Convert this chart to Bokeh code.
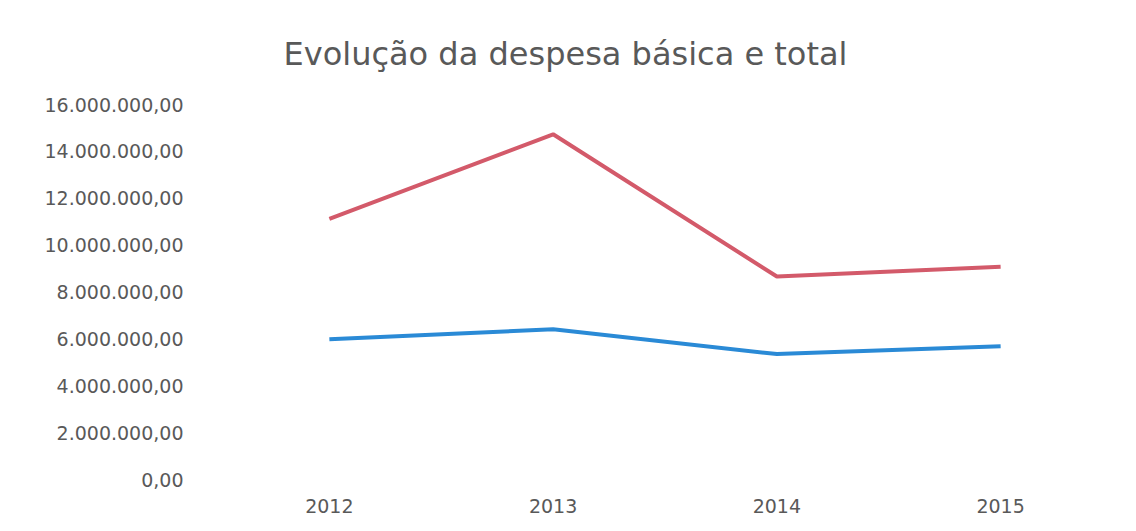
from bokeh.plotting import figure
from bokeh.models import Range1d, FixedTicker
from bokeh.embed import file_html
from bokeh.resources import INLINE

years = ["2012", "2013", "2014", "2015"]
despesa_total = [11120000, 14730000, 8660000, 9080000]
despesa_basica = [5980000, 6410000, 5350000, 5690000]
y_ticks = [0, 2000000, 4000000, 6000000, 8000000, 10000000, 12000000, 14000000, 16000000]
y_tick_labels = ["0,00", "2.000.000,00", "4.000.000,00", "6.000.000,00", "8.000.000,00",
                 "10.000.000,00", "12.000.000,00", "14.000.000,00", "16.000.000,00"]

FONT = "DejaVu Sans"
GREY = "#595959"

p = figure(x_range=years, y_range=Range1d(0, 16000000), width=1120, height=515,
           output_backend="svg", toolbar_location=None,
           title="Evolução da despesa básica e total",
           min_border_left=217, min_border_right=8, min_border_bottom=34, min_border_top=104)

p.line(years, despesa_total, line_color="#d35a6a", line_width=4)
p.line(years, despesa_basica, line_color="#2a8ad6", line_width=4)

p.title.text_font = FONT
p.title.text_font_size = "32px"
p.title.text_font_style = "normal"
p.title.text_color = GREY
p.title.align = "left"
p.title.offset = 66
p.title.standoff = 64

p.yaxis.ticker = FixedTicker(ticks=y_ticks)
p.yaxis.major_label_overrides = {t: l for t, l in zip(y_ticks, y_tick_labels)}
for ax in (p.xaxis, p.yaxis):
    ax.axis_line_color = None
    ax.major_tick_line_color = None
    ax.minor_tick_line_color = None
    ax.major_label_text_font = FONT
    ax.major_label_text_font_size = "19px"
    ax.major_label_text_color = GREY
p.yaxis.major_label_standoff = 28
p.xaxis.major_label_standoff = 13

p.xgrid.grid_line_color = None
p.ygrid.grid_line_color = None
p.outline_line_color = None
p.x_range.range_padding = 0

open("out.html", "w").write(file_html(p, INLINE))
